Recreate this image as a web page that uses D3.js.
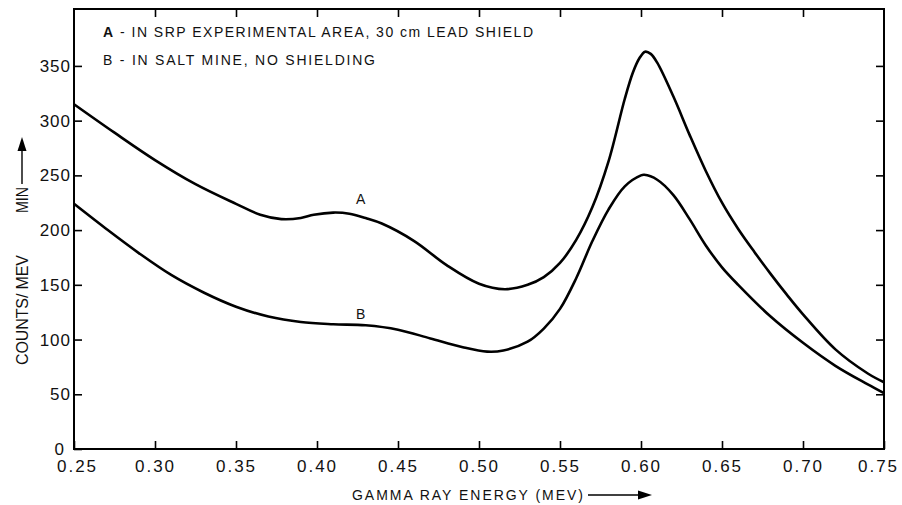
<!DOCTYPE html>
<html>
<head>
<meta charset="utf-8">
<script src="https://cdn.jsdelivr.net/npm/d3@7"></script>
<style>
  body { margin: 0; background: #fff; }
  svg { display: block; font-family: 'Liberation Sans', Arial, sans-serif; }
  .tick text { font-size: 17px; fill: #111; }
  .xAxis .tick text { letter-spacing: 2px; }
  .yAxis .tick text { letter-spacing: 1px; }
  .tick line { stroke: #000; stroke-width: 1.6px; }
</style>
</head>
<body>
<svg class="chart"></svg>
<script>
'use strict'

// curve A - SRP experimental area, 30 cm lead shield
const energyA = [0.25, 0.275, 0.30, 0.325, 0.35, 0.365, 0.378, 0.39, 0.398, 0.41, 0.42, 0.43, 0.44,
  0.46, 0.48, 0.50, 0.516, 0.53, 0.54, 0.55, 0.56, 0.57, 0.58, 0.59, 0.595, 0.599, 0.6025, 0.606,
  0.61, 0.62, 0.63, 0.64, 0.65, 0.66, 0.67, 0.68, 0.69, 0.70, 0.72, 0.74, 0.75]
const countsA = [315, 289, 264, 242, 224, 214, 210, 211, 214, 216, 215, 211, 206,
  190, 168, 151, 146, 150, 157, 170, 191, 221, 263, 320, 344, 357, 363, 361,
  353, 322, 287, 254, 225, 201, 180, 160, 141, 123, 91, 69, 61]

// curve B - salt mine, no shielding
const energyB = [0.25, 0.27, 0.29, 0.31, 0.33, 0.35, 0.37, 0.39, 0.41, 0.43, 0.45, 0.47, 0.49,
  0.505, 0.515, 0.53, 0.54, 0.55, 0.56, 0.57, 0.58, 0.59, 0.60, 0.602, 0.61, 0.62, 0.63, 0.64,
  0.65, 0.66, 0.68, 0.70, 0.72, 0.74, 0.75]
const countsB = [224, 201, 179, 159, 143, 130, 121, 116, 114, 113, 109, 101, 93,
  89, 90, 98, 110, 128, 156, 190, 219, 240, 250, 250.5, 246, 232, 210, 186,
  166, 150, 121, 97, 76, 59, 51]

const xTicks = [0.25, 0.30, 0.35, 0.40, 0.45, 0.50, 0.55, 0.60, 0.65, 0.70, 0.75]
const yTicks = [0, 50, 100, 150, 200, 250, 300, 350]
const legendLines = ['A - IN SRP EXPERIMENTAL AREA, 30 cm LEAD SHIELD', 'B - IN SALT MINE, NO SHIELDING']
const curveNames = ['A', 'B']

window.onload = function() {
  const margin = {top: 9, right: 18, bottom: 56, left: 74},
    width = 902 - margin.left - margin.right,
    height = 505 - margin.top - margin.bottom,
    x = d3.scaleLinear()
      .domain([0.25, 0.75])
      .range([0, width]),
    y = d3.scaleLinear()
      .domain([0, 402])
      .range([height, 0]),
    line = d3.line()
      .x(d => x(d[0]))
      .y(d => y(d[1]))
      .curve(d3.curveCatmullRom.alpha(0.5))

  const svg = d3.select('.chart')
    .attr('width', 902)
    .attr('height', 505)

  svg.append('rect')
    .attr('width', 902)
    .attr('height', 505)
    .attr('fill', '#fff')

  const g = svg.append('g')
    .attr('transform', 'translate(' + [margin.left, margin.top] + ')')

  const noDomain = sel => sel.select('.domain').remove()

  // ticks all point into the plot
  g.append('g')
    .attr('class', 'xAxis')
    .attr('transform', 'translate(0,' + height + ')')
    .call(d3.axisBottom(x).tickValues(xTicks).tickFormat(d3.format('.2f')).tickSize(-8).tickPadding(11))
    .call(noDomain)
    .selectAll('.tick text')
    .attr('dx', (d, i) => i === 0 ? 3 : (i === xTicks.length - 1 ? -6 : 0))

  g.append('g')
    .attr('class', 'yAxis')
    .call(d3.axisLeft(y).tickValues(yTicks).tickSize(-8).tickPadding(3))
    .call(noDomain)
    .selectAll('.tick text')
    .attr('dx', d => d === 0 ? -6 : 0)

  g.append('g')
    .call(d3.axisTop(x).tickValues(xTicks.slice(1, -1)).tickFormat('').tickSize(-8))
    .call(noDomain)

  g.append('g')
    .attr('transform', 'translate(' + width + ',0)')
    .call(d3.axisRight(y).tickValues(yTicks.slice(1)).tickFormat('').tickSize(-8))
    .call(noDomain)

  g.append('rect')
    .attr('width', width)
    .attr('height', height)
    .attr('fill', 'none')
    .attr('stroke', '#000')
    .attr('stroke-width', 2)

  const series = [d3.zip(energyA, countsA), d3.zip(energyB, countsB)]

  g.selectAll('.curve')
    .data(series)
    .enter()
    .append('path')
    .attr('class', 'curve')
    .attr('d', line)
    .attr('fill', 'none')
    .attr('stroke', '#000')
    .attr('stroke-width', 2.6)

  // curve letters sit just above each line near 0.427 MeV
  g.selectAll('.curveName')
    .data(curveNames)
    .enter()
    .append('text')
    .attr('class', 'curveName')
    .attr('x', x(0.427))
    .attr('y', (d, i) => y(i === 0 ? 224 : 119))
    .attr('text-anchor', 'middle')
    .attr('font-size', 14)
    .attr('fill', '#111')
    .text(d => d)

  // legend
  const legend = g.selectAll('.legend')
    .data(legendLines)
    .enter()
    .append('text')
    .attr('class', 'legend')
    .attr('x', 29)
    .attr('y', (d, i) => 28 + i * 28)
    .attr('font-size', 14)
    .attr('fill', '#111')
    .attr('textLength', (d, i) => i === 0 ? 430 : 272)
    .attr('lengthAdjust', 'spacing')
  legend.append('tspan')
    .attr('font-weight', (d, i) => i === 0 ? 'bold' : 'normal')
    .text(d => d.slice(0, 1))
  legend.append('tspan')
    .text(d => d.slice(1))

  // axis titles + arrows
  svg.append('text')
    .attr('x', 352)
    .attr('y', 500)
    .attr('font-size', 14)
    .attr('fill', '#111')
    .attr('textLength', 231)
    .attr('lengthAdjust', 'spacing')
    .text('GAMMA RAY ENERGY (MEV)')

  svg.append('line')
    .attr('x1', 588).attr('y1', 495)
    .attr('x2', 642).attr('y2', 495)
    .attr('stroke', '#000')
    .attr('stroke-width', 1.4)
  svg.append('path')
    .attr('d', 'M652,495L638,490.5L638,499.5Z')
    .attr('fill', '#000')

  svg.append('text')
    .attr('transform', 'translate(28,365) rotate(-90)')
    .attr('font-size', 16)
    .attr('fill', '#111')
    .attr('textLength', 110)
    .attr('lengthAdjust', 'spacing')
    .text('COUNTS/ MEV')

  svg.append('text')
    .attr('transform', 'translate(28,213) rotate(-90)')
    .attr('font-size', 16)
    .attr('fill', '#111')
    .attr('textLength', 26)
    .attr('lengthAdjust', 'spacingAndGlyphs')
    .text('MIN')

  svg.append('line')
    .attr('x1', 22).attr('y1', 184)
    .attr('x2', 22).attr('y2', 148)
    .attr('stroke', '#000')
    .attr('stroke-width', 1.4)
  svg.append('path')
    .attr('d', 'M22,137L17.5,151L26.5,151Z')
    .attr('fill', '#000')
}
</script>
</body>
</html>
